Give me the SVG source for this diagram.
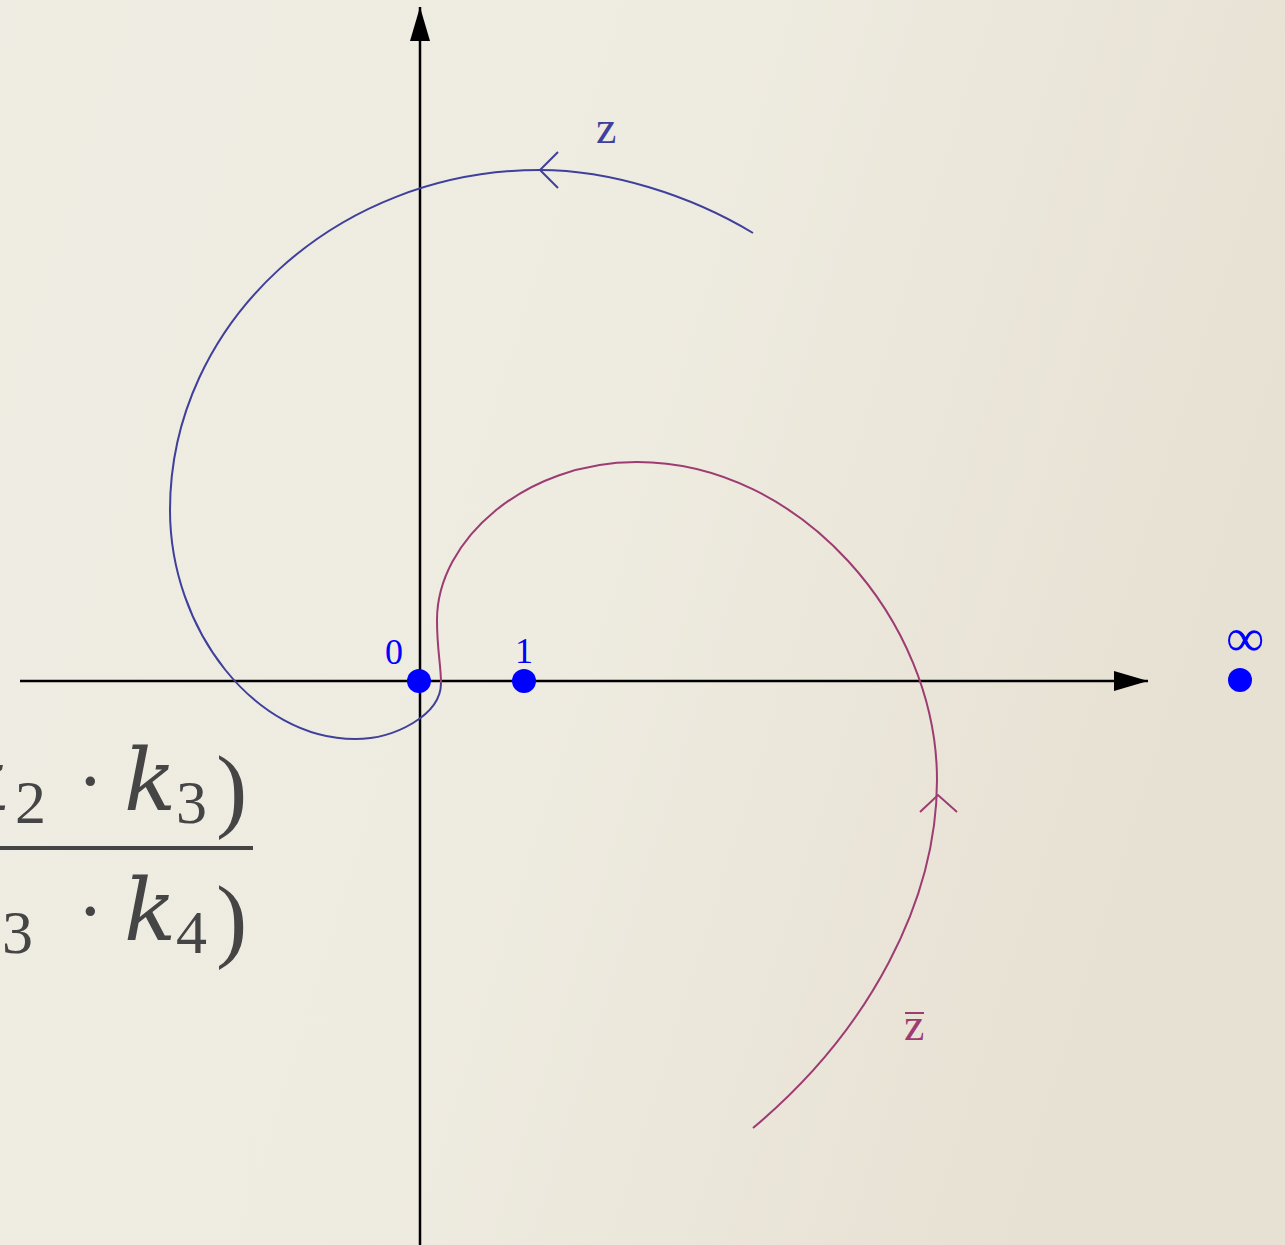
<svg xmlns="http://www.w3.org/2000/svg" width="1285" height="1245" viewBox="0 0 1285 1245">
<defs>
<linearGradient id="bg" x1="0" y1="0" x2="1" y2="0.3">
<stop offset="0" stop-color="#efede3"/>
<stop offset="0.55" stop-color="#eeebe0"/>
<stop offset="1" stop-color="#e7e1d3"/>
</linearGradient>
<marker id="tri" viewBox="0 0 34 20" refX="34" refY="10" markerWidth="34" markerHeight="20" markerUnits="userSpaceOnUse" orient="auto">
<path d="M0,0 L34,10 L0,20 Z" fill="#000"/>
</marker>
<style>
.axis{stroke:#000;stroke-width:2.5;fill:none}
.pt{fill:#0000ff}
.lbl{font-family:"Liberation Serif",serif;font-size:36px;fill:#0000ff}
.blue{stroke:#3f3f9c;stroke-width:2;fill:none}
.purp{stroke:#9c3c72;stroke-width:2;fill:none}
.frm{font-family:"Liberation Serif",serif;fill:#454545}
.k{font-family:"DejaVu Serif",serif;font-style:italic;font-size:86px}
.sub{font-size:62px}
.par{font-size:94px}
</style>
</defs>
<rect x="0" y="0" width="1285" height="1245" fill="url(#bg)"/>
<g id="formula" class="frm">
<text x="-42" y="810" class="k">k</text>
<text x="15" y="823" class="sub">2</text>
<text x="77" y="808" font-size="80">·</text>
<text x="124" y="810" class="k">k</text>
<text x="176" y="823" class="sub">3</text>
<text x="216" y="820" class="par">)</text>
<rect x="0" y="846" width="253" height="4" fill="#454545"/>
<text x="-48" y="940" class="k">k</text>
<text x="2" y="953" class="sub">3</text>
<text x="77" y="938" font-size="80">·</text>
<text x="124" y="940" class="k">k</text>
<text x="176" y="953" class="sub">4</text>
<text x="216" y="950" class="par">)</text>
</g>
<g id="axes">
<line class="axis" x1="20" y1="681" x2="1148" y2="681" marker-end="url(#tri)"/>
<line class="axis" x1="420" y1="1245" x2="420" y2="7" marker-end="url(#tri)"/>
</g>
<g id="connectors">
<path id="z-path" class="blue" d="M753,233 C690,195 610,170 540,170 C336,170 170,323 170,510 C170,630 255,739 355,739 C395,739 441,715 441,683"/>
<polyline class="blue" points="558,152 540,170 558,188"/>
<path id="zbar-path" class="purp" d="M441,683 C441,665 437,650 437,620 C437,540 525,462 637,462 C800,462 937,620 937,780 C937,900 870,1030 753,1128"/>
<polyline class="purp" points="920,812 938,795 957,812"/>
</g>
<g id="label-z"><text x="596" y="143" font-family="Liberation Serif, serif" font-size="46" fill="#3f3f9c">z</text></g>
<g id="label-zbar"><text x="904" y="1040" font-family="Liberation Serif, serif" font-size="46" fill="#9c3c72">z</text><line x1="905" y1="1013" x2="924" y2="1013" stroke="#9c3c72" stroke-width="2"/></g>
<g id="node-0"><circle class="pt" cx="419" cy="681" r="12"/><text class="lbl" x="385" y="664">0</text></g>
<g id="node-1"><circle class="pt" cx="524" cy="681" r="12"/><text class="lbl" x="515" y="663">1</text></g>
<g id="node-inf"><circle class="pt" cx="1240" cy="680" r="12"/><text x="1226" y="656" font-family="Liberation Serif, serif" font-size="54" fill="#0000ff">∞</text></g>
</svg>
